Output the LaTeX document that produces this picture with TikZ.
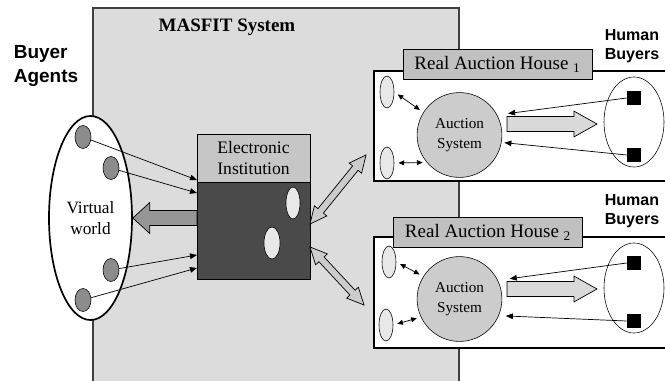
\documentclass[tikz,border=0pt]{standalone}
\usepackage{fontspec}
\setmainfont{Liberation Serif}
\setsansfont{Liberation Sans}
\usetikzlibrary{shapes.geometric,arrows.meta,calc}

\definecolor{sysgray}{HTML}{DCDCDC}
\definecolor{eigray}{HTML}{C6C6C6}
\definecolor{eidark}{HTML}{4A4A4A}
\definecolor{agentgray}{HTML}{8C8C8C}
\definecolor{arrowgray}{HTML}{969696}
\definecolor{titlegray}{HTML}{C0C0C0}
\definecolor{acgray}{HTML}{CCCCCC}
\definecolor{hollowgray}{HTML}{D9D9D9}
\definecolor{holegray}{HTML}{E8E8E8}

% block arrow: [style]{from}{to}{half shaft}{half head}{head length}
\newcommand{\blockarrow}[6][]{%
  \coordinate (ba-base) at ($(#3)!#6!(#2)$);
  \filldraw[#1] ($(#2)!#4!90:(#3)$) -- ($(ba-base)!#4!90:(#3)$) -- ($(ba-base)!#5!90:(#3)$) -- (#3)
    -- ($(ba-base)!#5!-90:(#3)$) -- ($(ba-base)!#4!-90:(#3)$) -- ($(#2)!#4!-90:(#3)$) -- cycle;
}
% same with a head at both ends
\newcommand{\twowayarrow}[6][]{%
  \coordinate (tw-a) at ($(#2)!#6!(#3)$);
  \coordinate (tw-b) at ($(#3)!#6!(#2)$);
  \filldraw[#1] (#2) -- ($(tw-a)!#5!90:(#3)$) -- ($(tw-a)!#4!90:(#3)$) -- ($(tw-b)!#4!90:(#3)$)
    -- ($(tw-b)!#5!90:(#3)$) -- (#3) -- ($(tw-b)!#5!-90:(#3)$) -- ($(tw-b)!#4!-90:(#3)$)
    -- ($(tw-a)!#4!-90:(#3)$) -- ($(tw-a)!#5!-90:(#3)$) -- cycle;
}

\tikzset{
  agent/.style={ellipse, draw, fill=agentgray, minimum width=0.4cm, minimum height=0.575cm, inner sep=0pt},
  hole/.style={ellipse, draw, fill=holegray, minimum width=0.35cm, minimum height=0.8cm, inner sep=0pt},
  buyer/.style={rectangle, fill=black, minimum size=0.35cm, inner sep=0pt},
  house/.style={draw, line width=1.3pt, fill=white},
  housetitle/.style={draw, fill=titlegray, line width=0.6pt, minimum width=4.725cm, minimum height=0.75cm,
    font=\fontsize{13.5}{16}\selectfont},
  auction/.style={circle, draw, fill=acgray, minimum size=2.12cm, align=center,
    font=\fontsize{10.8}{14.2}\selectfont},
  crowd/.style={ellipse, draw, minimum width=1.5cm, minimum height=2.25cm},
  humanlabel/.style={align=center, font=\sffamily\bfseries\fontsize{11.4}{13.5}\selectfont},
  flow/.style={-{Triangle[length=5pt,width=4pt]}, line width=0.5pt},
  link/.style={{Triangle[length=4pt,width=3.5pt]}-{Triangle[length=4pt,width=3.5pt]}, line width=0.5pt,
    shorten <=3pt, shorten >=3pt}
}

\begin{document}
\begin{tikzpicture}[x=0.025cm, y=-0.025cm]
\useasboundingbox (0,0) rectangle (665,381);

% MASFIT system
\filldraw[fill=sysgray, draw=black!75, line width=0.8pt] (93,8) rectangle (459,390);
\node[font=\bfseries\fontsize{13.5}{16}\selectfont] (sysname) at (227,27) {MASFIT System};

% buyer agents
\node[align=left, font=\sffamily\bfseries\fontsize{13.5}{16.4}\selectfont] (agentlabel) at (46,66) {Buyer\\Agents};
\node[ellipse, draw, line width=1.2pt, fill=white, minimum width=2.075cm, minimum height=5.1cm, align=center,
  font=\fontsize{12.3}{15}\selectfont] (world) at (90.5,218) {Virtual\\world};
\node[agent] (a1) at (83,137) {};
\node[agent] (a2) at (111,168) {};
\node[agent] (a3) at (111,270) {};
\node[agent] (a4) at (83,300) {};

% electronic institution
\node[draw, fill=eigray, line width=0.6pt, minimum width=2.825cm, minimum height=1.2cm, align=center,
  font=\fontsize{12.5}{15.6}\selectfont] (ei) at (253.5,158) {Electronic\\Institution};
\node[draw, fill=eidark, line width=0.6pt, minimum width=2.825cm, minimum height=2.425cm, anchor=north]
  (eibody) at (ei.south) {};
\node[hole, fill=holegray] (door1) at (293,203) {};
\node[hole, fill=holegray, minimum width=0.4cm] (door2) at (272,243) {};

\coordinate (in1) at (197,180);
\coordinate (in2) at (197,193);
\coordinate (in3) at (197,255);
\coordinate (in4) at (197,268);
\draw[flow] (a1) -- (in1);
\draw[flow] (a2) -- (in2);
\draw[flow] (a3) -- (in3);
\draw[flow] (a4) -- (in4);

\coordinate (eiout) at (197,218);
\blockarrow[fill=arrowgray, line width=0.5pt]{eiout}{world.east}{5.3pt}{11pt}{12pt}

% real auction house 1
\filldraw[house] (374,71) rectangle (680,181);
\node[housetitle] (title1) at (497.5,64.5) {Real Auction House \textsubscript{1}};
\node[hole] (h11) at (387,92) {};
\node[hole] (h12) at (387,163) {};
\node[auction] (ac1) at (459.5,135) {Auction\\System};
\node[crowd] (crowd1) at (634,122) {};
\node[buyer] (b11) at (634,98) {};
\node[buyer] (b12) at (634,155) {};
\node[humanlabel] (hl1) at (632,46) {Human\\Buyers};
\draw[link] (h11.east) -- (ac1.148);
\draw[link] (h12.east) -- (ac1.220);
\draw[flow, shorten >=7.8pt] (b11.west) -- (ac1.28);
\draw[flow, shorten >=2pt] (b12.west) -- (ac1.-10);
\coordinate (out1) at (507,124);
\coordinate (show1) at (597,124);
\blockarrow[fill=hollowgray, line width=0.5pt]{out1}{show1}{5.3pt}{9.2pt}{16.4pt}

% real auction house 2
\filldraw[house] (374,237) rectangle (680,348);
\node[housetitle] (title2) at (488,232.5) {Real Auction House \textsubscript{2}};
\node[hole] (h21) at (389,262) {};
\node[hole] (h22) at (386,325) {};
\node[auction] (ac2) at (459.5,299) {Auction\\System};
\node[crowd] (crowd2) at (634,288) {};
\node[buyer] (b21) at (634,263) {};
\node[buyer] (b22) at (634,321) {};
\node[humanlabel] (hl2) at (632,211) {Human\\Buyers};
\draw[link] (h21.east) -- (ac2.148);
\draw[link] (h22.east) -- (ac2.205);
\draw[flow, shorten >=8.5pt] (b21.west) -- (ac2.26);
\draw[flow, shorten >=5pt] (b22.west) -- (ac2.-23);
\coordinate (out2) at (507,289);
\coordinate (show2) at (597,289);
\blockarrow[fill=hollowgray, line width=0.5pt]{out2}{show2}{5.3pt}{9.2pt}{16.4pt}

% links between institution and houses
\coordinate (eir1) at (310,224);
\coordinate (eir2) at (310,247);
\coordinate (ahin1) at (366,155);
\coordinate (ahin2) at (364,305);
\twowayarrow[fill=acgray, line width=0.5pt]{eir1}{ahin1}{2.5pt}{5.7pt}{12pt}
\twowayarrow[fill=acgray, line width=0.5pt]{eir2}{ahin2}{2.5pt}{5.7pt}{12pt}
\end{tikzpicture}
\end{document}
